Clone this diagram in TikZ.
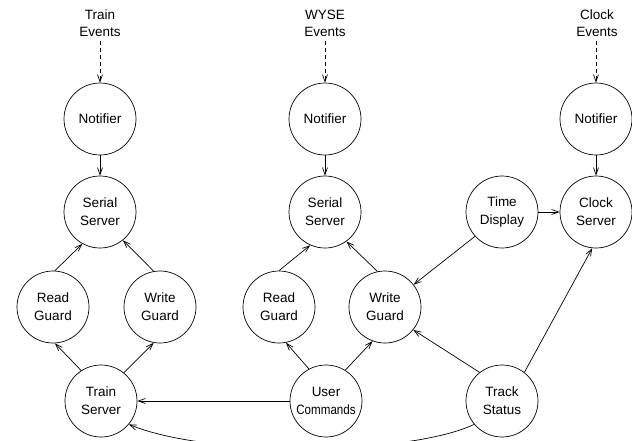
\documentclass[tikz,border=0pt]{standalone}
\usepackage{fontspec}
\setmainfont{Liberation Sans}
\usetikzlibrary{arrows.meta}
\begin{document}
\begin{tikzpicture}[x=1pt,y=-1pt,
  proc/.style={circle,draw,line width=0.7pt,minimum size=72pt,inner sep=0pt,align=center,
    font=\fontsize{13.5}{18}\selectfont},
  evt/.style={align=center,inner sep=0pt,font=\fontsize{13.5}{17}\selectfont},
  flow/.style={line width=0.7pt,-{Straight Barb[length=7pt,width=5pt]}},
  evflow/.style={flow,dash pattern=on 4pt off 3pt}]
\useasboundingbox (0,0) rectangle (632,440);
\clip (0,0) rectangle (632,440);
% event sources
\node[evt] (tev) at (100,23) {Train\\Events};
\node[evt] (wev) at (325,23) {WYSE\\Events};
\node[evt] (cev) at (597,23) {Clock\\Events};
% left column
\node[proc] (tnot) at (100,119) {Notifier};
\node[proc] (tser) at (100,212) {Serial\\Server};
\node[proc] (trg) at (53,307) {Read\\Guard};
\node[proc] (twg) at (160,307) {Write\\Guard};
\node[proc] (tsrv) at (101,401) {Train\\Server};
% middle column
\node[proc] (wnot) at (325,119) {Notifier};
\node[proc] (wser) at (325,212) {Serial\\Server};
\node[proc] (wrg) at (279,307) {Read\\Guard};
\node[proc] (wwg) at (385,307) {Write\\Guard};
\node[proc] (ucmd) at (326,401) {User\\\scalebox{0.86}[1]{Commands}};
% right
\node[proc] (cnot) at (596,119) {Notifier};
\node[proc] (cser) at (596,212) {Clock\\Server};
\node[proc] (tdisp) at (502,212) {Time\\Display};
\node[proc] (tstat) at (502,401) {Track\\Status};
% event arrows
\coordinate (tevb) at (100,41);
\coordinate (wevb) at (325,41);
\coordinate (cevb) at (596,41);
\draw[evflow] (tevb) -- (tnot);
\draw[evflow] (wevb) -- (wnot);
\draw[evflow] (cevb) -- (cnot);
% notifier to servers
\draw[flow] (tnot) -- (tser);
\draw[flow] (wnot) -- (wser);
\draw[flow] (cnot) -- (cser);
% left guards
\draw[flow] (trg.87) -- (tser.241);
\draw[flow] (twg.100) -- (tser.309);
\draw[flow] (tsrv.123) -- (trg.273);
\draw[flow] (tsrv.51) -- (twg.260);
% middle guards
\draw[flow] (wrg.90) -- (wser.246);
\draw[flow] (wwg.102) -- (wser.306);
\draw[flow] (ucmd.118) -- (wrg.281);
\draw[flow] (ucmd.58) -- (wwg.250);
% cross connections
\draw[flow] (ucmd.west) -- (tsrv.east);
\draw[flow] (tdisp.east) -- (cser.west);
\draw[flow] (tdisp.222) -- (wwg.38);
\draw[flow] (tstat.128) -- (wwg.321);
\draw[flow] (tstat.52) -- (cser.264);
\draw[flow] (tstat.220) .. controls (410,455) and (210,458) .. (tsrv.320);
\end{tikzpicture}
\end{document}
